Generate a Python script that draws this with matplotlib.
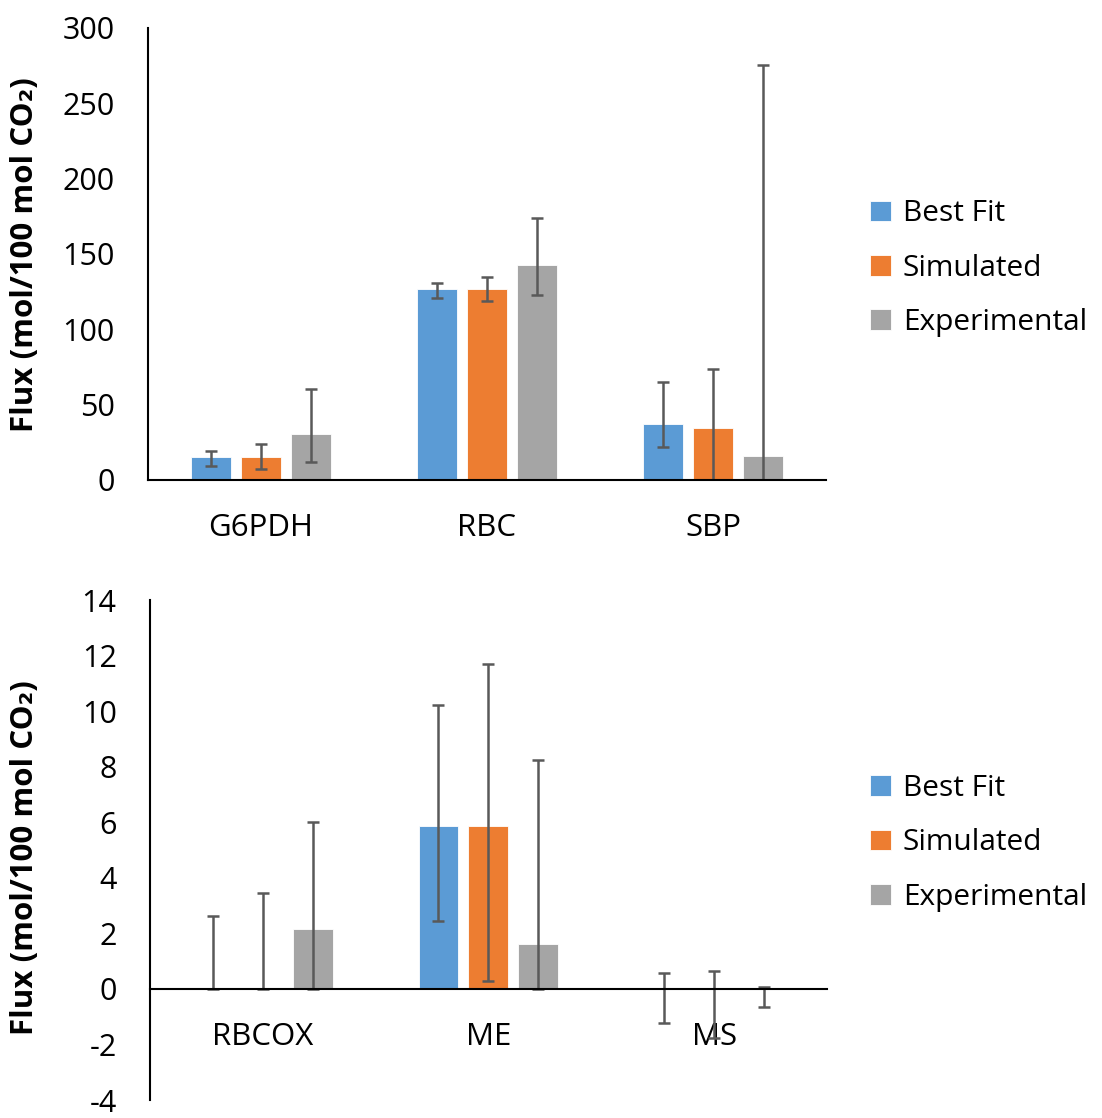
import numpy as np
import matplotlib
matplotlib.use("Agg")
import matplotlib.pyplot as plt

plt.rcParams['font.family'] = ['Open Sans', 'DejaVu Sans']
plt.rcParams['axes.unicode_minus'] = False

series = ["Best Fit", "Simulated", "Experimental"]
colors = ["#5B9BD5", "#ED7D31", "#A5A5A5"]

# top panel
top_cats = ["G6PDH", "RBC", "SBP"]
top_vals = [[15.0, 126.5, 37.2],
            [15.0, 126.5, 34.7],
            [30.3, 142.5, 15.9]]
top_low = [[9.1, 120.6, 22.1],
           [7.5, 118.8, -5.0],
           [11.7, 123.0, -5.0]]
top_high = [[19.4, 130.9, 65.2],
            [23.7, 134.9, 73.7],
            [60.2, 174.0, 275.2]]

# bottom panel
bot_cats = ["RBCOX", "ME", "MS"]
bot_vals = [[0.0, 5.86, 0.0],
            [0.0, 5.86, 0.0],
            [2.17, 1.62, 0.0]]
bot_low = [[0.0, 2.44, -1.22],
           [0.0, 0.3, -1.75],
           [0.0, 0.0, -0.65]]
bot_high = [[2.64, 10.23, 0.57],
            [3.45, 11.69, 0.63],
            [6.02, 8.25, 0.07]]

ylab = "Flux (mol/100 mol CO\u2082)"

fig = plt.figure(figsize=(11.02, 11.18), dpi=100)
ax1 = fig.add_axes([0.1343, 0.5707, 0.6152, 0.4043])
ax2 = fig.add_axes([0.1361, 0.0161, 0.6143, 0.4472])


def draw(ax, cats, vals, low, high, ylim, step, legend_y):
    x = np.arange(len(cats))
    w = 0.177
    off = 0.2215
    for i in range(3):
        v = np.array(vals[i])
        lo = v - np.array(low[i])
        hi = np.array(high[i]) - v
        ax.bar(x + (i - 1) * off, v, w, color=colors[i], label=series[i],
               edgecolor="white", linewidth=0.6, zorder=2)
        ax.errorbar(x + (i - 1) * off, v, yerr=[lo, hi], fmt="none",
                    ecolor="#595959", elinewidth=1.8, capsize=4.5,
                    capthick=1.8, zorder=3)
    ax.set_xlim(-0.5, len(cats) - 0.5)
    ax.set_ylim(*ylim)
    ax.set_yticks(np.arange(ylim[0], ylim[1] + step / 2, step))
    ax.set_xticks(x)
    ax.set_xticklabels(cats)
    for s in ["top", "right"]:
        ax.spines[s].set_visible(False)
    for s in ["left", "bottom"]:
        ax.spines[s].set_linewidth(1.5)
        ax.spines[s].set_color("black")
    ax.spines["bottom"].set_position(("data", 0))
    ax.spines["bottom"].set_zorder(4)
    ax.tick_params(axis="y", length=0, pad=24, labelsize=22)
    ax.tick_params(axis="x", length=0, pad=24, labelsize=22.5)
    ax.set_ylabel(ylab, fontsize=22.5, fontweight="bold")
    fig.legend(*ax.get_legend_handles_labels(), loc="center left",
               bbox_to_anchor=(0.776, legend_y), frameon=False, fontsize=21.5,
               handlelength=0.7, handleheight=0.7, handletextpad=0.4,
               labelspacing=0.85, borderpad=0)


draw(ax1, top_cats, top_vals, top_low, top_high, (0, 300), 50, 0.760)
draw(ax2, bot_cats, bot_vals, bot_low, bot_high, (-4, 14), 2, 0.246)

ax1.yaxis.set_label_coords(-0.16, 0.498)
ax2.yaxis.set_label_coords(-0.163, 0.484)

fig.savefig("out.png", dpi=100)
